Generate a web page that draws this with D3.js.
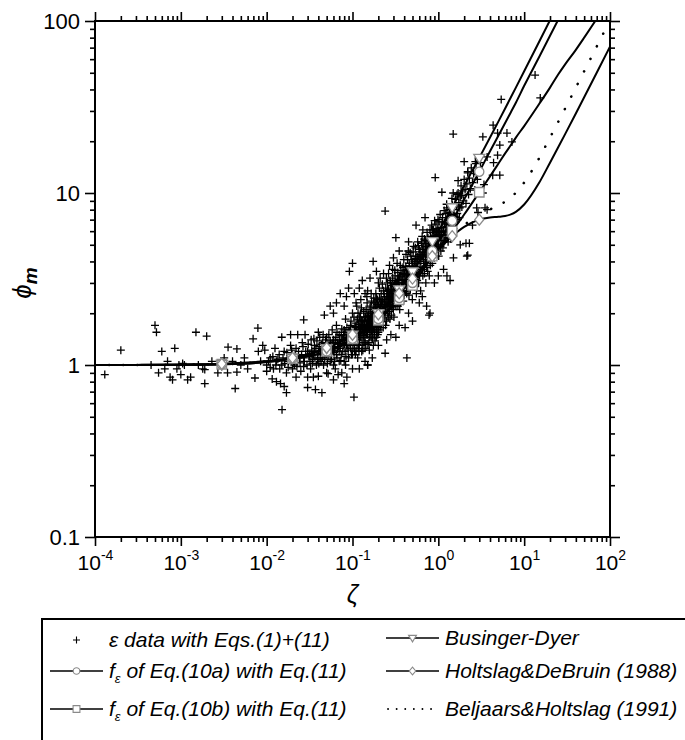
<!DOCTYPE html>
<html lang="en">
<head>
<meta charset="utf-8">
<title>phi_m versus zeta</title>
<script src="https://d3js.org/d3.v7.min.js"></script>
<style>
    body { margin: 0; background: #fff; }
    svg text { font-family: "Liberation Sans", Arial, Helvetica, sans-serif; fill: #000; }
    .axis path.domain { display: none; }
    .axis line { stroke: #000; stroke-width: 1.6; }
</style>
</head>
<body>
<div id="chart"></div>
<script>
// ---- data ----
// shared zeta grid for the model curves
const zetaGrid = [1e-4, 3e-4, 1e-3, 3e-3, 0.01, 0.02, 0.05, 0.1, 0.2, 0.35, 0.5, 0.85, 1.45, 2, 3, 4, 5, 6, 7, 8, 10, 15, 20, 25, 30, 40, 50, 70, 100];
// zeta values where the curve symbols sit
const markerZeta = [0.003, 0.02, 0.05, 0.1, 0.2, 0.35, 0.5, 0.85, 1.45, 3];

const phiBusingerDyer = [1.0005, 1.0015, 1.005, 1.015, 1.05, 1.1, 1.25, 1.5, 2.0, 2.75, 3.5, 5.25, 8.25, 11, 16, 21, 26, 31, 36, 41, 51, 76, 101];
const phiEq10a = [1.0, 1.0, 1.003, 1.01, 1.04, 1.09, 1.2, 1.42, 1.85, 2.45, 3.0, 4.6, 6.9, 9.2, 13.3, 17.5, 21.5, 25.5, 29.5, 33.5, 42, 62, 82, 102];
const phiEq10b = [1.0, 1.0, 1.003, 1.01, 1.04, 1.09, 1.2, 1.42, 1.82, 2.4, 2.9, 4.3, 6.0, 7.5, 10.1, 12.5, 14.8, 17, 19, 21, 24.5, 33, 41, 49, 56, 68, 80, 103];
const phiHoltslagDeBruin = [1.0, 1.0, 1.005, 1.016, 1.052, 1.1, 1.26, 1.5, 1.97, 2.61, 3.18, 4.29, 5.61, 6.35, 7.0, 7.2, 7.27, 7.35, 7.51, 7.77, 8.57, 11.5, 15.0, 18.5, 22, 29, 36, 50, 71];
const phiBeljaarsHoltslag = [1.0, 1.0, 1.005, 1.015, 1.05, 1.1, 1.25, 1.48, 1.95, 2.58, 3.13, 4.25, 5.65, 6.51, 7.46, 8.03, 8.46, 8.91, 9.43, 10.04, 11.5, 16.0, 21, 26, 31, 41, 51, 71, 101];

// epsilon data points [zeta, phi_m]
const epsData = [
    [1.3e-4, 0.88], [2e-4, 1.22], [4.5e-4, 1.0], [5e-4, 1.7], [5.2e-4, 1.55], [5.5e-4, 0.9], [6e-4, 1.2], [6.5e-4, 0.95],
    [7e-4, 1.05], [7.5e-4, 0.85], [8e-4, 0.82], [8.5e-4, 1.25], [9e-4, 0.95], [9.5e-4, 1.0], [1e-3, 0.88], [1.05e-3, 1.02],
    [1.1e-3, 1.0], [1.2e-3, 0.82], [1.3e-3, 0.85], [1.5e-3, 1.55], [1.6e-3, 1.0], [1.8e-3, 0.95], [2e-3, 1.47], [1.9e-3, 0.78],
    [1.9e-3, 0.94], [2.3e-3, 1.05], [2.7e-3, 0.9], [3e-3, 0.98], [3.2e-3, 1.1], [3.55e-3, 1.27], [3.5e-3, 0.9], [4e-3, 1.05],
    [4.3e-3, 0.73], [4.5e-3, 1.24], [4.5e-3, 0.91], [5e-3, 1.0], [5.5e-3, 1.1], [6e-3, 0.95], [6.95e-3, 1.42], [7.3e-3, 0.84],
    [7.9e-3, 1.64], [8e-3, 1.2], [8.5e-3, 1.05], [9e-3, 1.3], [9.5e-3, 1.22], [0.01, 1.0], [0.01, 0.92],
    [0.011, 1.1], [0.0116, 0.83], [0.012, 0.95], [0.0125, 1.25], [0.013, 0.8], [0.013, 1.05], [0.014, 1.15], [0.0145, 0.78],
    [0.015, 1.45], [0.0151, 0.55], [0.015, 1.0], [0.016, 0.75], [0.016, 1.2], [0.017, 0.69], [0.017, 0.9], [0.018, 1.05],
    [0.019, 1.5], [0.019, 1.3], [0.02, 0.95], [0.02, 1.15], [0.021, 1.0], [0.022, 0.85], [0.022, 1.25], [0.023, 1.5],
    [0.024, 1.1], [0.025, 0.92], [0.026, 1.35], [0.027, 1.83], [0.027, 1.1], [0.027, 0.98], [0.028, 1.5], [0.03, 0.74],
    [0.03, 1.2], [0.03, 0.85], [0.032, 1.05], [0.033, 1.4],
    [0.0105, 1.05], [0.011, 0.97], [0.0118, 1.12], [0.0128, 1.0], [0.0135, 1.08], [0.0142, 0.95], [0.0155, 1.1], [0.0162, 1.02],
    [0.0172, 1.18], [0.0178, 0.97], [0.0185, 1.1], [0.0195, 1.22], [0.0205, 1.05], [0.0215, 1.13], [0.0225, 0.98], [0.0235, 1.2],
    [0.0245, 1.03], [0.0255, 1.15], [0.0265, 1.28], [0.0275, 1.05], [0.0285, 1.2], [0.0295, 1.0], [0.0305, 1.32], [0.0315, 1.15],
    [0.0325, 0.95], [0.0335, 1.22], [0.0345, 1.08], [0.0355, 1.42], [0.0365, 1.1], [0.0375, 1.25], [0.0385, 1.38], [0.0395, 1.15],
    [0.0405, 1.02], [0.0415, 1.45], [0.0425, 1.2], [0.0435, 1.32], [0.0445, 1.1], [0.0455, 1.5], [0.0465, 1.28], [0.0475, 1.08],
    [0.0485, 1.4], [0.0495, 1.2],
    [0.035, 0.85], [0.035, 1.15], [0.036, 1.3], [0.037, 0.72], [0.038, 1.0], [0.04, 1.55], [0.04, 1.2], [0.04, 0.86],
    [0.042, 1.1], [0.044, 0.69], [0.045, 1.35], [0.046, 1.0], [0.047, 1.95], [0.048, 1.25], [0.05, 0.9], [0.05, 1.15],
    [0.05, 1.45], [0.052, 0.89], [0.053, 1.3], [0.055, 2.2], [0.055, 1.05], [0.056, 1.2], [0.058, 1.6], [0.06, 1.0],
    [0.06, 1.4], [0.062, 1.25], [0.063, 0.95], [0.065, 1.15], [0.065, 1.7], [0.067, 1.35], [0.068, 0.88], [0.07, 1.05],
    [0.07, 1.5], [0.072, 1.25], [0.072, 2.6], [0.074, 1.15], [0.075, 0.9], [0.076, 1.4], [0.078, 1.3], [0.08, 1.05],
    [0.08, 1.6], [0.082, 1.2], [0.083, 1.85], [0.085, 1.45], [0.086, 0.85], [0.088, 1.3], [0.09, 1.1], [0.09, 1.55],
    [0.092, 3.5], [0.093, 1.35], [0.095, 1.7], [0.095, 1.25], [0.098, 1.45], [0.1, 0.95], [0.1, 1.15], [0.1, 2.0],
    [0.1, 3.9], [0.104, 0.65],
    [0.052, 1.12], [0.054, 1.28], [0.057, 1.08], [0.059, 1.35], [0.061, 1.18], [0.064, 1.45], [0.066, 1.1], [0.069, 1.28],
    [0.071, 1.4], [0.073, 1.06], [0.077, 1.2], [0.079, 1.5], [0.081, 1.32], [0.084, 1.12], [0.087, 1.42], [0.089, 1.22],
    [0.091, 1.6], [0.094, 1.3], [0.097, 1.15], [0.099, 1.52],
    [0.031, 1.12], [0.034, 1.02], [0.036, 1.2], [0.039, 1.08], [0.041, 1.28], [0.043, 1.05], [0.046, 1.18], [0.049, 1.32],
    [0.051, 1.02], [0.055, 1.38], [0.058, 1.22], [0.062, 1.05], [0.066, 1.55], [0.07, 1.2], [0.075, 1.62], [0.083, 1.0],
    [0.086, 1.65], [0.092, 1.42], [0.096, 1.8],
    [0.0505, 1.3], [0.053, 1.5], [0.056, 1.32], [0.06, 1.22], [0.063, 1.38], [0.067, 1.25], [0.071, 1.33], [0.074, 1.48],
    [0.078, 1.4], [0.082, 1.55], [0.085, 1.3], [0.089, 1.45], [0.093, 1.58], [0.097, 1.38], [0.103, 1.52], [0.108, 1.65],
    [0.113, 1.48], [0.118, 1.72], [0.123, 1.6], [0.128, 1.82], [0.133, 1.68], [0.138, 1.78], [0.143, 1.58], [0.148, 1.92],
    [0.153, 1.82], [0.158, 1.68], [0.163, 2.0], [0.168, 1.82], [0.173, 1.9], [0.178, 2.1], [0.183, 1.95], [0.188, 1.78],
    [0.193, 2.25], [0.198, 1.95],
    [0.102, 1.38], [0.106, 1.22], [0.107, 1.68], [0.109, 1.5], [0.113, 1.32], [0.114, 1.85], [0.117, 1.25], [0.119, 1.62],
    [0.121, 1.42], [0.124, 2.0], [0.126, 1.55], [0.129, 1.3], [0.131, 1.72], [0.134, 1.48], [0.136, 1.9], [0.139, 1.38],
    [0.141, 1.62], [0.144, 2.1], [0.146, 1.5], [0.149, 1.78], [0.151, 1.32], [0.154, 1.95], [0.156, 1.62], [0.159, 1.45],
    [0.161, 1.85], [0.164, 2.2], [0.166, 1.58], [0.169, 1.75], [0.171, 1.42], [0.174, 2.05], [0.176, 1.65], [0.179, 1.88],
    [0.181, 1.5], [0.184, 2.3], [0.186, 1.72], [0.189, 2.0], [0.191, 1.6], [0.194, 1.82], [0.196, 2.4], [0.199, 1.68],
    [0.105, 1.3], [0.105, 1.6], [0.108, 1.45], [0.11, 1.2], [0.11, 1.75], [0.112, 2.2], [0.115, 1.4], [0.115, 1.1],
    [0.118, 1.55], [0.12, 1.3], [0.12, 1.9], [0.122, 1.65], [0.125, 1.45], [0.125, 2.4], [0.128, 1.2], [0.13, 1.55],
    [0.13, 1.8], [0.133, 1.35], [0.135, 2.05], [0.138, 1.6], [0.14, 1.25], [0.14, 1.45], [0.142, 1.9], [0.145, 1.7],
    [0.148, 2.3], [0.15, 1.0], [0.15, 1.5], [0.15, 1.6], [0.152, 2.0], [0.155, 1.35], [0.158, 1.8], [0.16, 1.55],
    [0.16, 2.15], [0.162, 1.7], [0.165, 1.45], [0.165, 2.6], [0.168, 1.9], [0.17, 1.6], [0.172, 2.0], [0.175, 1.3],
    [0.175, 1.75], [0.178, 2.3], [0.18, 1.55], [0.18, 1.95], [0.182, 1.7], [0.185, 2.15], [0.188, 1.85], [0.19, 1.45],
    [0.19, 2.45], [0.192, 1.65], [0.195, 2.0], [0.198, 1.8], [0.2, 2.2], [0.2, 1.55], [0.2, 3.0],
    [0.101, 1.25], [0.104, 1.9], [0.108, 1.15], [0.111, 1.58], [0.116, 2.0], [0.119, 1.2], [0.123, 1.78], [0.127, 2.15],
    [0.132, 1.22], [0.137, 1.7], [0.143, 1.32], [0.147, 2.5], [0.153, 1.72], [0.157, 1.22], [0.163, 1.95], [0.167, 2.35],
    [0.173, 1.55], [0.177, 2.45], [0.183, 1.38], [0.187, 2.6], [0.193, 2.15], [0.197, 1.5],
    [0.202, 2.05], [0.204, 1.75], [0.207, 2.45], [0.209, 1.9], [0.211, 2.2], [0.214, 1.65], [0.216, 2.6], [0.219, 2.05],
    [0.221, 1.8], [0.224, 2.35], [0.226, 2.0], [0.229, 2.7], [0.231, 1.85], [0.234, 2.2], [0.236, 2.5], [0.239, 1.95],
    [0.241, 2.15], [0.244, 2.8], [0.246, 2.35], [0.249, 1.8], [0.251, 2.6], [0.254, 2.2], [0.256, 3.0], [0.259, 2.45],
    [0.261, 1.9], [0.264, 2.75], [0.266, 2.3], [0.269, 2.05], [0.271, 2.55], [0.274, 3.1], [0.276, 2.2], [0.279, 2.7],
    [0.281, 2.4], [0.284, 1.95], [0.286, 2.9], [0.289, 2.55], [0.291, 2.25], [0.294, 3.2], [0.296, 2.65], [0.299, 2.1],
    [0.302, 2.45], [0.306, 2.85], [0.309, 2.3], [0.313, 3.3], [0.317, 2.6], [0.321, 2.2], [0.326, 3.0], [0.329, 2.5],
    [0.333, 2.75], [0.337, 3.45], [0.342, 2.45], [0.347, 2.95], [0.352, 3.3], [0.357, 2.65], [0.362, 2.3], [0.367, 3.55],
    [0.372, 2.85], [0.377, 3.1], [0.382, 2.55], [0.388, 3.7], [0.393, 3.0], [0.398, 2.7],
    [0.203, 1.6], [0.206, 2.8], [0.212, 1.7], [0.217, 2.3], [0.223, 2.95], [0.228, 1.65], [0.233, 2.6], [0.238, 2.25],
    [0.243, 1.7], [0.248, 3.2], [0.253, 2.5], [0.258, 2.0], [0.263, 3.4], [0.268, 2.45], [0.273, 1.85], [0.278, 3.0],
    [0.283, 2.6], [0.288, 2.15], [0.293, 3.6], [0.298, 2.9], [0.304, 1.9], [0.311, 3.55], [0.318, 2.95], [0.324, 2.4],
    [0.331, 3.9], [0.338, 2.2], [0.345, 3.15], [0.355, 2.1], [0.36, 3.8], [0.37, 2.65], [0.38, 3.35], [0.39, 2.35],
    [0.396, 4.1],
    [0.205, 2.15], [0.215, 2.35], [0.225, 2.1], [0.235, 2.4], [0.245, 2.2], [0.255, 2.7], [0.265, 2.5], [0.275, 2.35],
    [0.285, 2.75], [0.295, 2.45], [0.31, 2.95], [0.32, 2.7], [0.335, 3.1], [0.35, 2.8], [0.365, 3.25], [0.38, 3.0],
    [0.395, 3.4], [0.41, 3.15], [0.425, 3.6], [0.44, 3.3], [0.46, 3.75], [0.48, 3.5], [0.5, 3.9], [0.52, 3.7],
    [0.545, 4.15], [0.57, 3.9], [0.595, 4.4], [0.62, 4.2], [0.65, 4.7], [0.68, 4.4], [0.71, 4.9], [0.74, 4.6],
    [0.77, 5.2], [0.8, 4.9], [0.84, 5.4], [0.88, 5.1], [0.92, 5.7], [0.96, 5.4], [1.0, 6.0], [1.05, 5.7],
    [1.1, 6.3], [1.15, 6.0], [1.2, 6.6], [1.26, 6.4], [1.32, 7.1], [1.38, 6.8], [1.45, 7.5],
    [0.405, 3.4], [0.412, 2.95], [0.418, 3.75], [0.424, 3.2], [0.431, 2.8], [0.438, 4.1], [0.444, 3.35], [0.451, 3.0],
    [0.458, 3.9], [0.465, 3.55], [0.472, 2.75], [0.479, 4.3], [0.486, 3.3], [0.493, 3.75], [0.501, 3.05], [0.509, 4.55],
    [0.517, 3.6], [0.525, 4.0], [0.533, 3.25], [0.542, 4.8], [0.551, 3.9], [0.559, 3.45], [0.568, 4.25], [0.577, 3.7],
    [0.586, 4.95], [0.596, 4.1], [0.605, 3.3], [0.615, 4.55], [0.625, 4.0], [0.635, 5.2], [0.645, 3.6], [0.655, 4.35],
    [0.666, 4.8], [0.676, 3.9], [0.687, 5.4], [0.698, 4.5], [0.709, 4.1], [0.72, 5.0], [0.732, 3.7], [0.744, 4.7],
    [0.756, 5.5], [0.768, 4.3], [0.78, 5.1], [0.792, 4.6],
    [0.402, 2.55], [0.41, 3.55], [0.42, 4.4], [0.428, 2.6], [0.436, 3.6], [0.447, 4.6], [0.455, 2.55], [0.462, 3.2],
    [0.47, 4.5], [0.482, 2.9], [0.49, 4.1], [0.498, 2.4], [0.505, 3.5], [0.515, 4.9], [0.528, 2.85], [0.538, 3.7],
    [0.547, 4.3], [0.555, 2.6], [0.565, 3.1], [0.575, 5.2], [0.59, 3.0], [0.6, 4.7], [0.612, 3.7], [0.622, 2.7],
    [0.632, 4.3], [0.648, 5.6], [0.66, 3.3], [0.672, 4.1], [0.69, 3.4], [0.705, 5.3], [0.715, 3.0], [0.728, 4.4],
    [0.74, 5.9], [0.752, 3.5], [0.765, 4.9], [0.785, 3.3],
    [0.81, 5.6], [0.825, 4.4], [0.838, 5.0], [0.852, 6.1], [0.866, 4.7], [0.88, 5.4], [0.894, 4.2], [0.909, 5.9],
    [0.924, 5.1], [0.939, 6.6], [0.954, 4.8], [0.97, 5.5], [0.986, 6.2], [1.0, 5.0], [1.02, 6.8], [1.04, 5.6],
    [1.06, 4.9], [1.08, 6.3], [1.1, 5.3], [1.12, 7.2], [1.14, 6.0], [1.16, 5.2], [1.18, 6.7], [1.2, 5.7],
    [1.22, 7.6], [1.24, 6.3], [1.27, 5.5], [1.29, 7.0], [1.31, 6.1], [1.34, 8.0], [1.36, 6.6], [1.38, 5.9],
    [1.41, 7.4], [1.43, 6.4], [1.46, 8.5], [1.48, 7.0],
    [0.805, 3.8], [0.82, 5.1], [0.835, 6.5], [0.85, 3.9], [0.87, 5.9], [0.89, 4.6], [0.905, 6.9], [0.93, 4.3],
    [0.95, 6.0], [0.965, 5.0], [0.99, 7.0], [1.01, 4.3], [1.03, 5.9], [1.05, 7.5], [1.07, 4.6], [1.09, 5.7],
    [1.11, 6.8], [1.13, 4.8], [1.17, 7.9], [1.19, 5.3], [1.23, 6.0], [1.25, 8.6], [1.3, 5.2], [1.33, 6.9],
    [1.37, 7.7], [1.4, 5.4], [1.44, 9.3], [1.47, 6.1], [1.53, 7.0], [1.57, 8.6], [1.61, 7.2], [1.65, 9.8],
    [1.69, 7.0], [1.78, 8.2], [1.86, 9.7],
    [1.5, 6.2], [1.52, 8.0], [1.55, 7.3], [1.58, 9.2], [1.6, 6.8], [1.63, 8.4], [1.66, 7.6], [1.7, 10.0],
    [1.73, 8.8], [1.76, 7.2], [1.8, 9.5], [1.84, 11.0], [1.88, 8.3], [1.92, 10.3], [1.96, 9.0], [2.0, 12.0],
    [2.05, 10.5], [2.1, 8.7], [2.15, 11.3], [2.2, 13.3], [2.25, 9.8], [2.3, 12.2], [2.36, 10.6], [2.42, 14.0],
    [2.5, 11.5], [2.58, 13.0], [2.66, 10.4], [2.75, 14.8], [2.85, 12.0], [2.95, 16.0],
    [0.06, 2.0], [0.065, 2.3], [0.08, 2.2], [0.085, 2.5], [0.09, 2.8], [0.105, 2.6], [0.12, 2.8], [0.13, 3.1],
    [0.14, 2.6], [0.16, 3.2], [0.19, 3.5], [0.21, 3.2], [0.27, 3.8], [0.3, 4.2], [0.35, 4.6], [0.45, 5.2],
    [0.55, 6.5], [0.7, 7.2],
    [0.06, 0.82], [0.08, 0.78], [0.12, 0.95], [0.14, 1.05], [0.17, 1.1], [0.2, 1.3], [0.25, 1.4], [0.28, 1.5],
    [0.35, 1.7], [0.45, 2.0], [0.5, 1.8], [0.6, 2.3], [0.65, 2.5], [0.9, 3.0], [1.0, 3.3], [1.15, 3.6],
    [1.5, 4.2], [1.8, 5.0], [2.5, 6.5],
    [0.92, 12.3], [1.1, 10.1], [1.7, 11.8], [2.0, 15.2], [2.2, 13.1], [2.8, 12.8], [2.7, 15.2], [3.1, 15.0],
    [3.7, 16.2], [3.4, 11.2], [3.3, 10.0], [2.8, 8.2], [3.7, 8.0], [3.5, 8.2], [2.9, 7.7], [2.15, 4.3],
    [2.3, 5.1], [1.26, 8.2], [1.49, 10.0], [0.66, 6.1], [0.8, 6.1], [0.88, 6.1], [1.49, 22], [3.3, 21.2],
    [4.35, 24.8], [4.9, 22.3], [6.3, 22.3], [7.2, 19.8], [5.2, 19], [4.9, 16.6], [4.4, 15], [5.2, 12.7],
    [4.3, 12.7], [5.4, 35], [13.4, 48.5], [15.4, 35.7], [0.24, 7.85], [0.32, 5.5], [0.64, 5.1],
    [0.174, 4.0], [0.23, 3.4], [0.15, 2.7], [0.11, 2.3],
    [0.32, 1.45], [0.41, 1.65], [0.73, 2.2], [0.8, 2.0], [0.78, 1.95], [1.26, 3.3], [1.37, 3.1], [2.2, 4.35],
    [2.1, 5.1], [0.43, 1.1], [0.24, 1.17], [0.15, 1.0]
];

const xTickValues = [1e-4, 1e-3, 1e-2, 1e-1, 1, 10, 100];
const yTickValues = [0.1, 1, 10, 100];
const yTickLabels = ["0.1", "1", "10", "100"];

// ---- layout ----
const width = 685;
const height = 740;
const plot = { left: 95, right: 610, top: 21, bottom: 537 };

const svg = d3.select("#chart")
    .append("svg")
    .attr("width", width)
    .attr("height", height);

const x = d3.scaleLog().domain([1e-4, 100]).range([plot.left, plot.right]);
const y = d3.scaleLog().domain([0.1, 100]).range([plot.bottom, plot.top]);

const xMinor = x.ticks().filter(v => !xTickValues.some(t => Math.abs(t - v) / t < 1e-9));
const yMinor = y.ticks().filter(v => !yTickValues.some(t => Math.abs(t - v) / t < 1e-9));

svg.append("clipPath").attr("id", "clip")
    .append("rect")
    .attr("x", plot.left).attr("y", plot.top)
    .attr("width", plot.right - plot.left).attr("height", plot.bottom - plot.top);

// ---- axes (ticks point outwards on all four sides) ----
function addAxis(axisFn, scale, values, size, transform) {
    return svg.append("g")
        .attr("class", "axis")
        .attr("transform", transform)
        .call(axisFn(scale).tickValues(values).tickSize(size).tickSizeOuter(0).tickFormat(""));
}
addAxis(d3.axisBottom, x, xMinor, 5, `translate(0,${plot.bottom})`);
addAxis(d3.axisTop, x, xMinor, 5, `translate(0,${plot.top})`);
addAxis(d3.axisLeft, y, yMinor, 5, `translate(${plot.left},0)`);
addAxis(d3.axisRight, y, yMinor, 5, `translate(${plot.right},0)`);
addAxis(d3.axisTop, x, xTickValues, 9, `translate(0,${plot.top})`);
addAxis(d3.axisRight, y, yTickValues, 10, `translate(${plot.right},0)`);

// bottom major ticks with 10^n labels
const xAxisG = svg.append("g")
    .attr("class", "axis")
    .attr("transform", `translate(0,${plot.bottom})`)
    .call(d3.axisBottom(x).tickValues(xTickValues).tickSize(9).tickSizeOuter(0).tickFormat(""));
xAxisG.selectAll(".tick text").each(function (d) {
    const t = d3.select(this)
        .attr("y", 33).attr("dy", null)
        .attr("font-size", 21)
        .attr("text-anchor", "middle");
    t.append("tspan").text("10");
    t.append("tspan").attr("dy", -10).attr("font-size", 14).text(Math.round(Math.log10(d)));
});

// left major ticks with labels
svg.append("g")
    .attr("class", "axis")
    .attr("transform", `translate(${plot.left},0)`)
    .call(d3.axisLeft(y).tickValues(yTickValues).tickSize(10).tickPadding(5).tickSizeOuter(0)
        .tickFormat((d, i) => yTickLabels[i]))
    .selectAll(".tick text")
    .attr("font-size", 22)
    .attr("dy", "0.35em");

// frame
svg.append("rect")
    .attr("x", plot.left).attr("y", plot.top)
    .attr("width", plot.right - plot.left).attr("height", plot.bottom - plot.top)
    .attr("fill", "none").attr("stroke", "#000").attr("stroke-width", 2);

// ---- scatter ----
const plusPath = "M-4,0H4M0,-4V4";
svg.append("g")
    .attr("clip-path", "url(#clip)")
    .selectAll("path")
    .data(epsData)
    .join("path")
    .attr("d", plusPath)
    .attr("transform", d => `translate(${x(d[0])},${y(d[1])})`)
    .attr("stroke", "#000")
    .attr("stroke-width", 1.3)
    .attr("fill", "none");

// ---- model curves ----
const series = [
    { name: "eq10b", phi: phiEq10b, symbol: "square" },
    { name: "eq10a", phi: phiEq10a, symbol: "circle" },
    { name: "bd", phi: phiBusingerDyer, symbol: "triangle" },
    { name: "hdb", phi: phiHoltslagDeBruin, symbol: "diamond" },
    { name: "bh", phi: phiBeljaarsHoltslag, symbol: null, dotted: true }
];

const line = d3.line()
    .x(d => x(d[0]))
    .y(d => y(d[1]))
    .curve(d3.curveMonotoneX);

const curves = svg.append("g").attr("clip-path", "url(#clip)");
series.forEach(s => {
    const pts = s.phi.map((p, i) => [zetaGrid[i], p]);
    curves.append("path")
        .datum(pts)
        .attr("d", line)
        .attr("fill", "none")
        .attr("stroke", "#000")
        .attr("stroke-width", s.dotted ? 2.6 : 2)
        .attr("stroke-linecap", "round")
        .attr("stroke-dasharray", s.dotted ? "0.1,14" : null);
});

function symbolPath(kind, scale) {
    const k = scale || 1;
    if (kind === "circle") return d3.symbol(d3.symbolCircle, 66 * k * k)();
    if (kind === "square") return d3.symbol(d3.symbolSquare, 90 * k * k)();
    if (kind === "triangle") {
        const w = 5.5 * k, h = 9 * k;
        return `M${-w},${-h * 0.4}L${w},${-h * 0.4}L0,${h * 0.6}Z`;
    }
    if (kind === "diamond") {
        const w = 4.5 * k, h = 5.5 * k;
        return `M0,${-h}L${w},0L0,${h}L${-w},0Z`;
    }
    return "";
}

const markers = svg.append("g").attr("clip-path", "url(#clip)");
series.filter(s => s.symbol).forEach(s => {
    const pts = s.phi.map((p, i) => [zetaGrid[i], p])
        .filter(d => markerZeta.some(m => Math.abs(m - d[0]) / m < 1e-9));
    markers.selectAll(null)
        .data(pts)
        .join("path")
        .attr("d", symbolPath(s.symbol))
        .attr("transform", d => `translate(${x(d[0])},${y(d[1])})`)
        .attr("fill", "#fff")
        .attr("stroke", "#8a8a8a")
        .attr("stroke-width", 1.3);
});

// ---- axis titles ----
svg.append("text")
    .attr("x", (plot.left + plot.right) / 2)
    .attr("y", 603)
    .attr("text-anchor", "middle")
    .attr("font-size", 25)
    .attr("font-style", "italic")
    .text("ζ");

const yTitle = svg.append("text")
    .attr("transform", `translate(31,${(plot.top + plot.bottom) / 2 + 4}) rotate(-90)`)
    .attr("text-anchor", "middle")
    .attr("font-size", 26)
    .attr("font-style", "italic");
yTitle.append("tspan").text("ϕ");
yTitle.append("tspan")
    .attr("dy", 6)
    .attr("font-size", 19)
    .attr("font-weight", "bold")
    .text("m");

// ---- legend ----
const legendTop = 619;
const legend = svg.append("g");
legend.append("rect")
    .attr("x", 42).attr("y", legendTop)
    .attr("width", 700).attr("height", 160)
    .attr("fill", "none").attr("stroke", "#000").attr("stroke-width", 2);

const legendItems = [
    { col: 0, y: 640, symbol: "plus", text: [["ε", null], [" data with Eqs.(1)+(11)", null]] },
    { col: 0, y: 671, symbol: "circle", lineOn: true, text: [["f", null], ["ε", "sub"], [" of Eq.(10a) with Eq.(11)", "back"]] },
    { col: 0, y: 709, symbol: "square", lineOn: true, text: [["f", null], ["ε", "sub"], [" of Eq.(10b) with Eq.(11)", "back"]] },
    { col: 1, y: 638, symbol: "triangle", lineOn: true, text: [["Businger-Dyer", null]] },
    { col: 1, y: 671, symbol: "diamond", lineOn: true, text: [["Holtslag&DeBruin (1988)", null]] },
    { col: 1, y: 709, symbol: null, dotted: true, text: [["Beljaars&Holtslag (1991)", null]] }
];
const colX = [{ x0: 50, x1: 103, tx: 109 }, { x0: 386, x1: 439, tx: 445 }];

legendItems.forEach(it => {
    const c = colX[it.col];
    const cx = (c.x0 + c.x1) / 2;
    if (it.lineOn) {
        legend.append("line")
            .attr("x1", c.x0).attr("x2", c.x1).attr("y1", it.y).attr("y2", it.y)
            .attr("stroke", "#000").attr("stroke-width", 1.6);
    }
    if (it.dotted) {
        legend.append("line")
            .attr("x1", c.x0 + 2).attr("x2", c.x1 - 5).attr("y1", it.y).attr("y2", it.y)
            .attr("stroke", "#000").attr("stroke-width", 1.8)
            .attr("stroke-linecap", "round")
            .attr("stroke-dasharray", "0.1,8.5");
    }
    if (it.symbol === "plus") {
        legend.append("path")
            .attr("d", "M-3.5,0H3.5M0,-3.5V3.5")
            .attr("transform", `translate(${cx},${it.y})`)
            .attr("stroke", "#000").attr("stroke-width", 1.1);
    } else if (it.symbol) {
        legend.append("path")
            .attr("d", symbolPath(it.symbol, 0.72))
            .attr("transform", `translate(${cx},${it.y})`)
            .attr("fill", "#fff").attr("stroke", "#8a8a8a").attr("stroke-width", 1.1);
    }
    const t = legend.append("text")
        .attr("x", c.tx)
        .attr("y", it.y + 7)
        .attr("font-size", 21)
        .attr("font-style", "italic");
    it.text.forEach(([str, role]) => {
        const sp = t.append("tspan").text(str);
        if (role === "sub") sp.attr("dy", 5).attr("font-size", 13);
        if (role === "back") sp.attr("dy", -5);
    });
});
</script>
</body>
</html>
